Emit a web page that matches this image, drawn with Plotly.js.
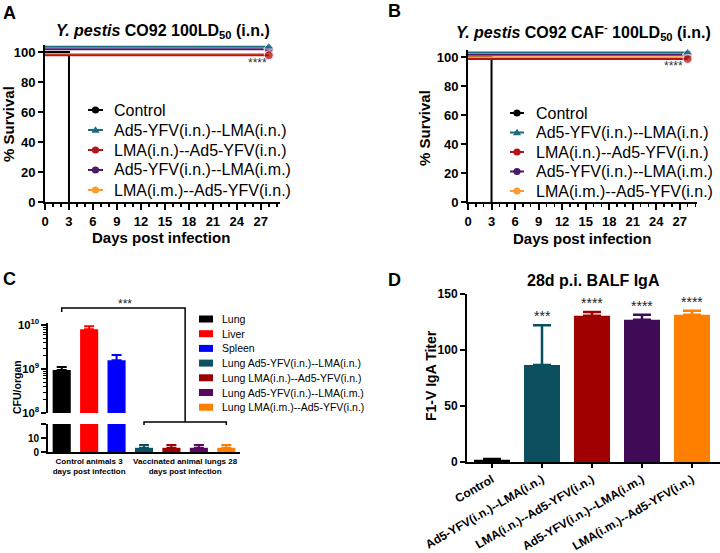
<!DOCTYPE html>
<html><head><meta charset="utf-8">
<script src="https://cdn.plot.ly/plotly-3.0.1.min.js"></script>
<style>html,body{margin:0;padding:0;background:#fff}#chart{width:720px;height:553px}</style>
</head><body><div id="chart"></div>
<script>
// ---------------- data ----------------
const survivalGroups = ['Control','Ad5-YFV(i.n.)--LMA(i.n.)','LMA(i.n.)--Ad5-YFV(i.n.)','Ad5-YFV(i.n.)--LMA(i.m.)','LMA(i.m.)--Ad5-YFV(i.n.)'];
const survivalColors = ['#000000','#1b6b80','#b3141c','#4b1a6c','#ff9a30'];
const survivalSymbols = ['circle','triangle-up','circle','circle','circle'];
const controlDays = [0, 3, 3];
const controlSurvival = [100, 100, 0];
const vaccinatedDays = [0, 28];
// vaccinated groups: 100% survival, drawn slightly offset as in the original
const survivalA = [103.5, 97.8, 101.8, 98.7];
const survivalB = [103.0, 98.6, 101.5, 99.8];
const dayTicks = [0, 3, 6, 9, 12, 15, 18, 21, 24, 27];
const survivalTicks = [0, 20, 40, 60, 80, 100];

const cfuGroups = ['Lung','Liver','Spleen','Lung Ad5-YFV(i.n.)--LMA(i.n.)','Lung LMA(i.n.)--Ad5-YFV(i.n.)','Lung Ad5-YFV(i.n.)--LMA(i.m.)','Lung LMA(i.m.)--Ad5-YFV(i.n.)'];
const cfuColors = ['#000000','#ff0000','#0000ff','#0c5262','#9b0000','#5a0a5c','#ff8000'];
const cfuMean = [9.5e8, 8.1e9, 1.6e9, 3, 3, 3, 3];
const cfuSem = [1.6e8, 1.4e9, 0.5e9, 2, 2, 2, 2];
const cfuTickLabels = ['Control animals 3<br>days post infection','Vaccinated animal lungs 28<br>days post infection'];

const igaGroups = ['Control','Ad5-YFV(i.n.)--LMA(i.n.)','LMA(i.n.)--Ad5-YFV(i.n.)','Ad5-YFV(i.n.)--LMA(i.m.)','LMA(i.m.)--Ad5-YFV(i.n.)'];
const igaColors = ['#000000','#0b4e5e','#a00000','#3f0a56','#ff8000'];
const igaMean = [2, 86.5, 130.5, 127, 131.5];
const igaSem = [0.6, 35.5, 3.5, 4.5, 3.5];
const igaStars = ['', '***', '****', '****', '****'];

// ---------------- helpers ----------------
const W = 720, H = 553;
const FONT = 'Liberation Sans, Arial, sans-serif';
const PX = x => x / W;
const PY = y => 1 - y / H;
const domX = (a, b) => [a / W, b / W];
const domY = (top, bottom) => [1 - bottom / H, 1 - top / H];

const traces = [];
const shapes = [];
const annotations = [];

function txt(x, y, text, size, opts) {
  annotations.push(Object.assign({
    xref: 'paper', yref: 'paper', x: PX(x), y: PY(y), text: text, showarrow: false,
    xanchor: 'center', yanchor: 'middle',
    font: {family: FONT, size: size, color: '#000'}
  }, opts || {}));
}

// ---------------- survival panels ----------------
function survivalPanel(xa, ya, values) {
  const order = [0, 4, 3, 2, 1];
  order.forEach(g => {
    const xs = g === 0 ? controlDays : vaccinatedDays;
    const ys = g === 0 ? controlSurvival : vaccinatedDays.map(() => values[g - 1]);
    traces.push({
      type: 'scatter', mode: 'lines+markers', xaxis: xa, yaxis: ya,
      x: xs, y: ys, cliponaxis: false, showlegend: false, hoverinfo: 'skip',
      line: {color: survivalColors[g], width: 2},
      marker: {color: survivalColors[g], symbol: survivalSymbols[g],
               size: xs.map((d, i) => (g > 0 && i === xs.length - 1) ? 9 : 0)}
    });
  });
}
survivalPanel('x', 'y', survivalA);
survivalPanel('x2', 'y2', survivalB);

function survLegend(x0, x1, xt, ys) {
  survivalGroups.forEach((name, g) => {
    const cy = ys[g], cx = (x0 + x1) / 2, col = survivalColors[g];
    shapes.push({type: 'line', xref: 'paper', yref: 'paper', x0: PX(x0), x1: PX(x1), y0: PY(cy), y1: PY(cy), line: {color: col, width: 2}});
    const r = 3.6;
    if (survivalSymbols[g] === 'triangle-up') {
      shapes.push({type: 'path', xref: 'paper', yref: 'paper',
        path: `M ${PX(cx - r - 0.5)} ${PY(cy + r * 0.75)} L ${PX(cx + r + 0.5)} ${PY(cy + r * 0.75)} L ${PX(cx)} ${PY(cy - r * 1.05)} Z`,
        fillcolor: col, line: {width: 0}});
    } else {
      shapes.push({type: 'circle', xref: 'paper', yref: 'paper', x0: PX(cx - r), x1: PX(cx + r), y0: PY(cy + r), y1: PY(cy - r), fillcolor: col, line: {width: 0}});
    }
    txt(xt, cy, name, 16, {xanchor: 'left'});
  });
}
survLegend(88, 103, 112, [110, 130, 150, 170, 190]);
survLegend(510, 524, 534, [113, 132.5, 152, 171.5, 191]);

// ---------------- CFU panel (broken axis) ----------------
cfuGroups.forEach((name, i) => {
  ['y3', 'y4'].forEach(ya => {
    traces.push({
      type: 'bar', xaxis: 'x3', yaxis: ya, x: [i], y: [cfuMean[i]], width: 0.66,
      marker: {color: cfuColors[i], line: {width: 0}}, showlegend: false, hoverinfo: 'skip',
      error_y: {type: 'data', symmetric: false, array: [cfuSem[i]], arrayminus: [0], color: cfuColors[i], thickness: 2, width: 5}
    });
  });
  // legend
  const cy = 319 + i * 14.7;
  shapes.push({type: 'rect', xref: 'paper', yref: 'paper', x0: PX(199), x1: PX(213), y0: PY(cy + 3.5), y1: PY(cy - 3.5), fillcolor: cfuColors[i], line: {width: 0}});
  txt(220, cy, name, 10.5, {xanchor: 'left'});
});
// significance brackets
const bk = {color: '#000', width: 1.5};
shapes.push({type: 'path', xref: 'x3', yref: 'paper',
  path: `M 0 ${PY(312)} L 0 ${PY(308)} L 4.5 ${PY(308)} L 4.5 ${PY(422)}`, line: bk});
shapes.push({type: 'path', xref: 'x3', yref: 'paper',
  path: `M 3 ${PY(425)} L 3 ${PY(422)} L 6 ${PY(422)} L 6 ${PY(425)}`, line: bk});
annotations.push({xref: 'x3', yref: 'paper', x: 2.3, y: PY(304), text: '***', showarrow: false,
  font: {family: FONT, size: 12, color: '#222'}});

// ---------------- IgA panel ----------------
igaGroups.forEach((name, i) => {
  traces.push({
    type: 'bar', xaxis: 'x4', yaxis: 'y5', x: [i], y: [igaMean[i]], width: 0.72,
    marker: {color: igaColors[i], line: {width: 0}}, showlegend: false, hoverinfo: 'skip',
    error_y: {type: 'data', symmetric: false, array: [igaSem[i]], arrayminus: [0], color: igaColors[i], thickness: 2.5, width: 9}
  });
  if (igaStars[i]) {
    annotations.push({xref: 'x4', yref: 'y5', x: i, y: igaMean[i] + igaSem[i], text: igaStars[i],
      showarrow: false, yanchor: 'middle', yshift: 9,
      font: {family: FONT, size: 14, color: '#222'}});
  }
});

// ---------------- texts ----------------
txt(9, 13, '<b>A</b>', 18);
txt(394, 11, '<b>B</b>', 18);
txt(9, 279, '<b>C</b>', 18);
txt(394, 280, '<b>D</b>', 18);
txt(163, 32, '<b><i>Y. pestis</i> CO92 100LD<sub>50</sub> (i.n.)</b>', 16);
txt(583, 32, '<b><i>Y. pestis</i> CO92 CAF<sup>-</sup> 100LD<sub>50</sub> (i.n.)</b>', 16);
txt(593, 280, '<b>28d p.i. BALF IgA</b>', 16);
txt(8, 124, '<b>% Survival</b>', 15, {textangle: -90});
txt(425, 128, '<b>% Survival</b>', 15, {textangle: -90});
txt(161, 237, '<b>Days post infection</b>', 15);
txt(582, 238, '<b>Days post infection</b>', 15);
txt(17, 387, '<b>CFU/organ</b>', 10.5, {textangle: -90});
txt(431, 376, '<b>F1-V IgA Titer</b>', 14, {textangle: -90});
txt(257, 63, '****', 12, {font: {family: FONT, size: 12, color: '#333'}});
txt(673, 66, '****', 12, {font: {family: FONT, size: 12, color: '#333'}});

// ---------------- axes ----------------
const baseAxis = {showline: true, linecolor: '#000', linewidth: 2, ticks: 'outside', tickcolor: '#000',
  tickwidth: 2, showgrid: false, zeroline: false, fixedrange: true};
const boldTick = s => ({family: FONT, size: s, color: '#000', weight: 'bold'});
const dayMinor = {ticks: 'outside', dtick: 1, tick0: 0, ticklen: 3, tickwidth: 1.5, tickcolor: '#000', showgrid: false};

const layout = {
  width: W, height: H, margin: {l: 0, r: 0, t: 0, b: 0},
  paper_bgcolor: '#fff', plot_bgcolor: 'rgba(0,0,0,0)', showlegend: false,
  font: {family: FONT, color: '#000'},
  xaxis: Object.assign({}, baseAxis, {domain: domX(45, 280), range: [0, 29.4], anchor: 'y',
    tickvals: dayTicks, ticklen: 6, tickfont: boldTick(13), minor: dayMinor}),
  yaxis: Object.assign({}, baseAxis, {domain: domY(45, 202), range: [0, 104.7], anchor: 'x',
    tickvals: survivalTicks, ticklen: 5, tickfont: boldTick(13)}),
  xaxis2: Object.assign({}, baseAxis, {domain: domX(468, 697), range: [0, 29.2], anchor: 'y2',
    tickvals: dayTicks, ticklen: 6, tickfont: boldTick(13), minor: dayMinor}),
  yaxis2: Object.assign({}, baseAxis, {domain: domY(50, 202), range: [0, 104.8], anchor: 'x2',
    tickvals: survivalTicks, ticklen: 5, tickfont: boldTick(13)}),
  xaxis3: Object.assign({}, baseAxis, {domain: domX(48, 240), range: [-0.5, 6.5], anchor: 'y4',
    ticks: '', tickvals: [1, 4.5], ticktext: cfuTickLabels, tickfont: boldTick(8)}),
  yaxis3: Object.assign({}, baseAxis, {domain: domY(323, 413), type: 'log', range: [8, 10.05], anchor: 'x3',
    dtick: 1, exponentformat: 'power', ticklen: 5, tickfont: boldTick(9),
    minor: {ticks: 'outside', ticklen: 3, tickwidth: 1, tickcolor: '#000', dtick: 'D1', showgrid: false}}),
  yaxis4: Object.assign({}, baseAxis, {domain: domY(424, 452), range: [0, 20], anchor: 'x3',
    tickvals: [0, 10, 20], ticktext: ['0', '10', ''], ticklen: 5, tickfont: boldTick(10)}),
  xaxis4: Object.assign({}, baseAxis, {domain: domX(467, 720), range: [-0.5, 4.56], anchor: 'y5',
    tickvals: igaGroups.map((g, i) => i), ticktext: igaGroups, tickangle: -30, ticklen: 4, tickfont: boldTick(12)}),
  yaxis5: Object.assign({}, baseAxis, {domain: domY(294, 462), range: [0, 150], anchor: 'x4',
    dtick: 50, ticklen: 5, tickfont: boldTick(12)}),
  shapes: shapes,
  annotations: annotations
};

Plotly.newPlot('chart', traces, layout, {staticPlot: true, displayModeBar: false});
</script></body></html>
